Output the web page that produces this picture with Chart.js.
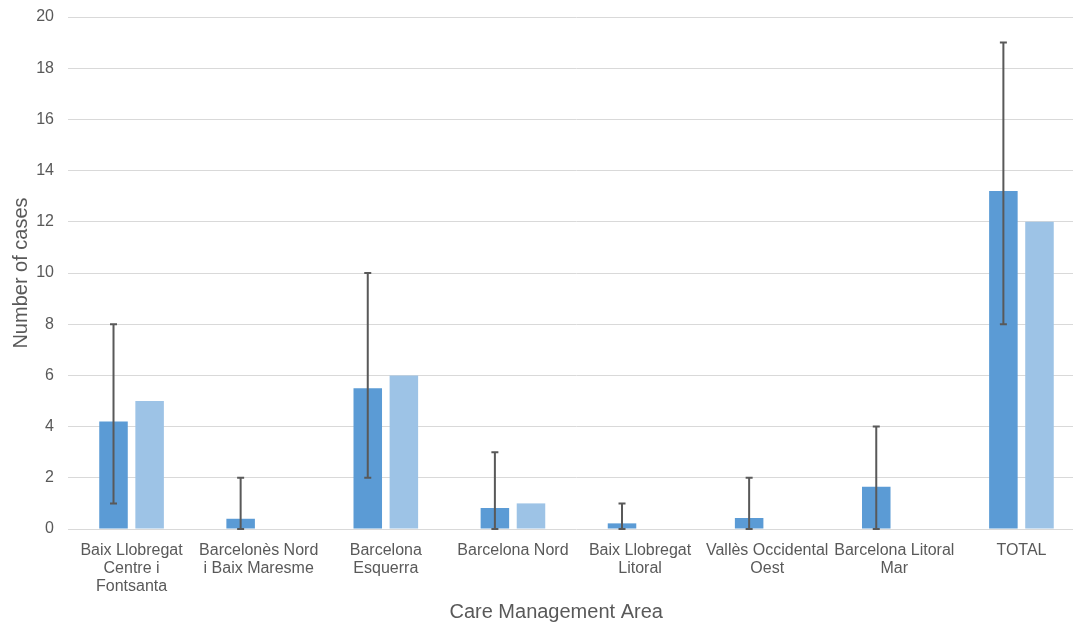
<!DOCTYPE html>
<html>
<head>
<meta charset="utf-8">
<script src="https://cdn.jsdelivr.net/npm/chart.js@4.4.1/dist/chart.umd.min.js"></script>
<style>
  html, body { margin: 0; padding: 0; background: #fff; overflow: hidden; }
  #wrap { position: absolute; left: 0; top: 0; width: 1090px; height: 625px; }
</style>
</head>
<body>
<div id="wrap"><canvas id="casesChart"></canvas></div>
<script>
/* Cases per Care Management Area: observed (with range) vs. second series. */

const AREAS = [
  ["Baix Llobregat", "Centre i", "Fontsanta"],
  ["Barcelonès Nord", "i Baix Maresme"],
  ["Barcelona", "Esquerra"],
  "Barcelona Nord",
  ["Baix Llobregat", "Litoral"],
  ["Vallès Occidental", "Oest"],
  ["Barcelona Litoral", "Mar"],
  "TOTAL"
];
const SERIES_A = [4.2, 0.4, 5.5, 0.82, 0.22, 0.43, 1.65, 13.2];
const SERIES_B = [5, 0, 6, 1, 0, 0, 0, 12];
const ERR_LOW = [1, 0, 2, 0, 0, 0, 0, 8];
const ERR_HIGH = [8, 2, 10, 3, 1, 2, 4, 19];
const Y_TICKS = [0, 2, 4, 6, 8, 10, 12, 14, 16, 18, 20];

const FONT = "'Liberation Sans', Arial, sans-serif";
const TEXT_GRAY = "#595959";

const errorBars = {
  id: "errorBars",
  afterDatasetsDraw(chart) {
    const meta = chart.getDatasetMeta(0);
    const y = chart.scales.y;
    const ctx = chart.ctx;
    ctx.save();
    ctx.strokeStyle = "#595959";
    ctx.lineWidth = 2;
    meta.data.forEach((bar, i) => {
      const top = y.getPixelForValue(ERR_HIGH[i]);
      const bot = y.getPixelForValue(ERR_LOW[i]);
      ctx.beginPath();
      ctx.moveTo(bar.x, top); ctx.lineTo(bar.x, bot);
      ctx.moveTo(bar.x - 3.5, top); ctx.lineTo(bar.x + 3.5, top);
      ctx.moveTo(bar.x - 3.5, bot); ctx.lineTo(bar.x + 3.5, bot);
      ctx.stroke();
    });
    ctx.restore();
  }
};

const xTitle = {
  id: "xTitle",
  afterDraw(chart) {
    const a = chart.chartArea;
    const ctx = chart.ctx;
    ctx.save();
    ctx.fillStyle = TEXT_GRAY;
    ctx.font = "20px " + FONT;
    ctx.textAlign = "center";
    ctx.textBaseline = "middle";
    ctx.fillText("Care Management Area", a.left + a.width * 0.48, 612);
    ctx.restore();
  }
};

new Chart(document.getElementById("casesChart"), {
  type: "bar",
  data: {
    labels: AREAS,
    datasets: [
      { data: SERIES_A, backgroundColor: "#5B9BD5", categoryPercentage: 0.568, barPercentage: 0.79 },
      { data: SERIES_B, backgroundColor: "#9DC3E6", categoryPercentage: 0.568, barPercentage: 0.79 }
    ]
  },
  options: {
    responsive: true,
    maintainAspectRatio: false,
    animation: false,
    layout: { padding: { top: 17, right: 5, bottom: 0, left: 0 } },
    plugins: { legend: { display: false }, tooltip: { enabled: false } },
    scales: {
      x: {
        grid: { display: false },
        border: { display: false },
        ticks: { color: TEXT_GRAY, font: { family: FONT, size: 16, lineHeight: 1.12 }, padding: 5, maxRotation: 0, autoSkip: false },
        afterFit: (s) => { s.height = 96; s.paddingLeft = 0; s.paddingRight = 0; }
      },
      y: {
        min: 0, max: 20,
        afterBuildTicks: (s) => { s.ticks = Y_TICKS.map(v => ({ value: v })); },
        grid: { color: "#D9D9D9", lineWidth: 1, drawTicks: false },
        border: { display: false },
        ticks: { color: TEXT_GRAY, font: { family: FONT, size: 16 }, padding: 14 },
        title: { display: true, text: "Number of cases", color: TEXT_GRAY, font: { family: FONT, size: 20 }, padding: { top: 9, bottom: 0 } },
        afterFit: (s) => { s.width = 68; s.paddingTop = 0; s.paddingBottom = 0; }
      }
    }
  },
  plugins: [errorBars, xTitle]
});
</script>
</body>
</html>
